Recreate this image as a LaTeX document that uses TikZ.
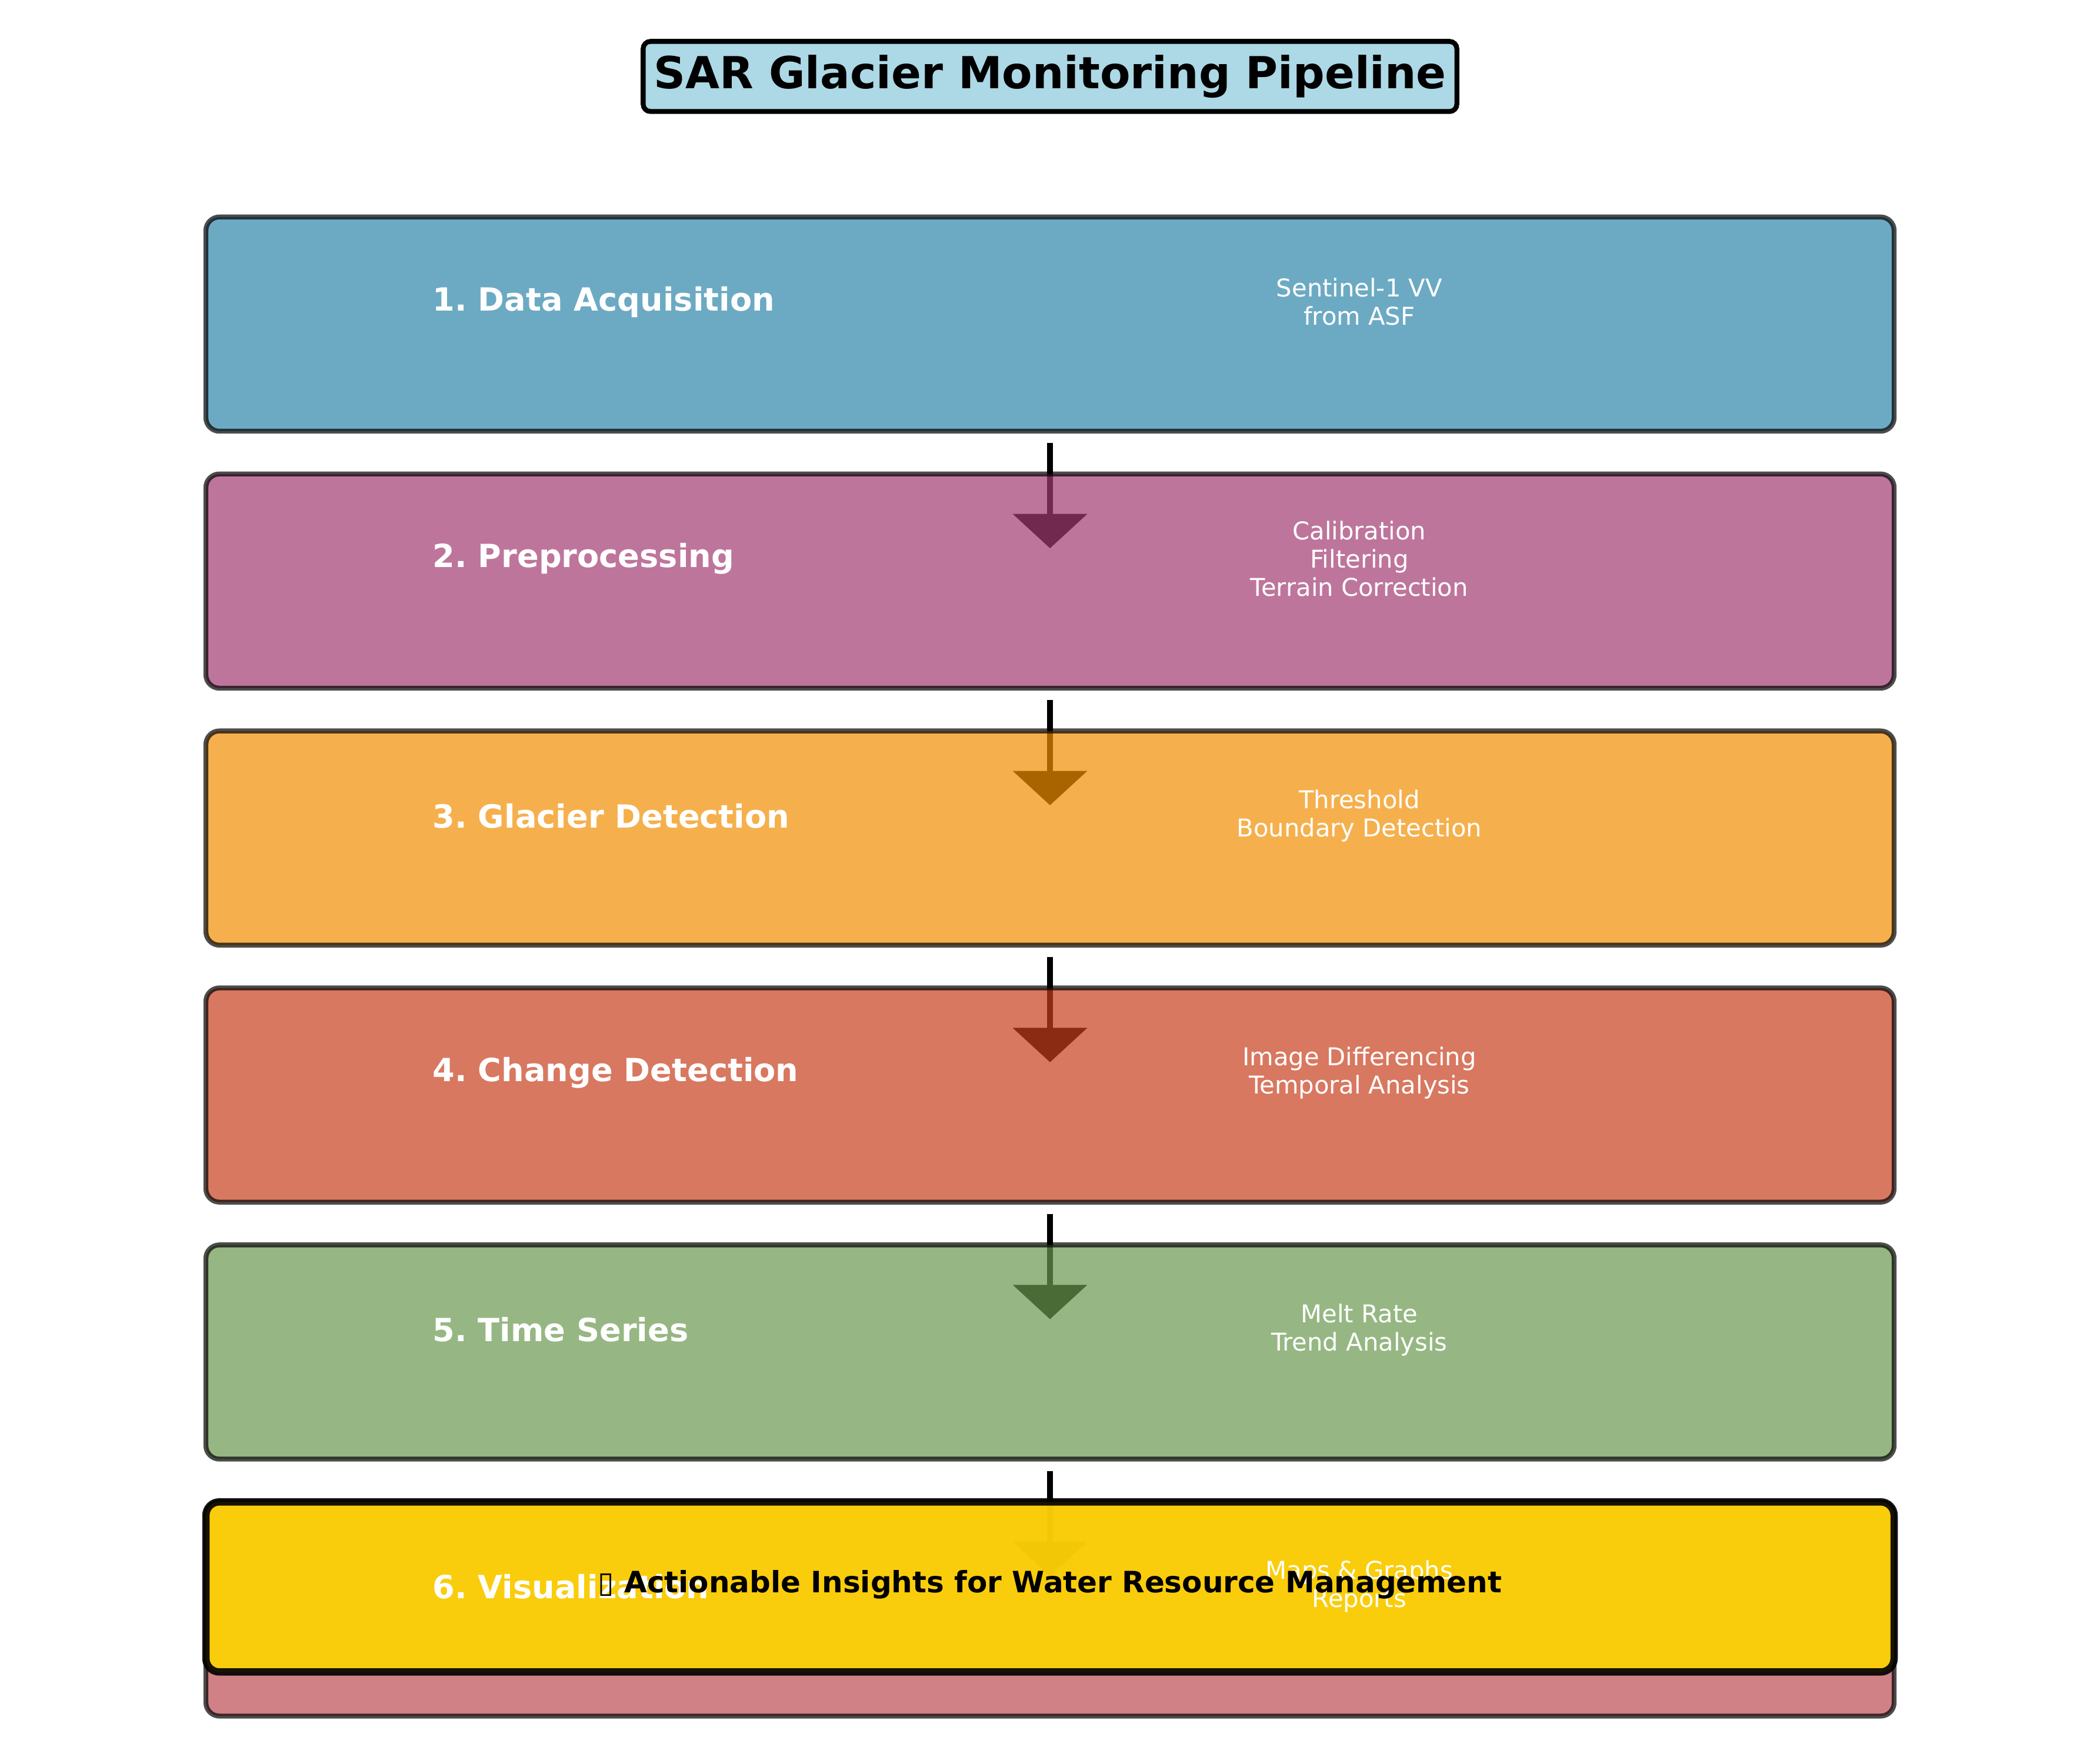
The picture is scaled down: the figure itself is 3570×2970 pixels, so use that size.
\documentclass[tikz,border=0pt]{standalone}
\usepackage{fontspec}
\setmainfont{DejaVu Sans}
\frenchspacing
\usetikzlibrary{arrows.meta,positioning}
\pgfdeclarelayer{back}
\pgfsetlayers{back,main}
\definecolor{acqblue}{HTML}{2E86AB}
\definecolor{prepurple}{HTML}{A23B72}
\definecolor{detorange}{HTML}{F18F01}
\definecolor{chgred}{HTML}{C73E1D}
\definecolor{tsgreen}{HTML}{6A994E}
\definecolor{visrose}{HTML}{BC4B51}
\definecolor{insightgold}{HTML}{FFD700}
\definecolor{titleblue}{HTML}{ADD8E6}
\tikzset{
  titlebox/.style={draw=black, line width=2pt, fill=titleblue, rounded corners=3pt,
    minimum width=332pt, minimum height=28.6pt, inner sep=0pt,
    font=\fontsize{18}{21}\selectfont\bfseries},
  stage/.style={draw=black, draw opacity=.7, fill opacity=.7, line width=2pt,
    rounded corners=5.5pt, minimum width=688.8pt, minimum height=87.4pt,
    inner sep=0pt, outer sep=0pt},
  insight/.style={draw=black, draw opacity=.9, fill=insightgold, fill opacity=.9,
    line width=3pt, rounded corners=5.5pt, minimum width=688.8pt,
    minimum height=69.4pt, inner sep=0pt, outer sep=0pt},
  stagename/.style={anchor=west, text=white, inner sep=0pt,
    font=\fontsize{13}{15.6}\selectfont\bfseries},
  stagenote/.style={text=white, align=center, inner sep=0pt,
    font=\fontsize{10}{11.5}\selectfont},
  flow/.style={line width=2.2pt, -{Triangle[width=30pt,length=14pt]}}
}
\begin{document}
\begin{tikzpicture}[x=0.24pt,y=-0.24pt]
\useasboundingbox (0,0) rectangle (3570,2970);
\node[titlebox] (title) at (1785,130) {SAR Glacier Monitoring Pipeline};

% stage boxes
\node[stage, fill=acqblue] (acq) at (1785,551) {};
\node[stage, fill=prepurple, below=17.45pt of acq] (prep) {};
\node[stage, fill=detorange, below=17.45pt of prep] (det) {};
\node[stage, fill=chgred, below=17.45pt of det] (chg) {};
\node[stage, fill=tsgreen, below=17.45pt of chg] (ts) {};
\node[stage, fill=visrose, below=17.45pt of ts] (vis) {};
\node[insight] (ins) at ([yshift=9pt]vis.center) {};

\begin{pgfonlayer}{back}
\draw[flow] ([yshift=-4.8pt]acq.south) -- ([yshift=-30.3pt]prep.north);
\draw[flow] ([yshift=-4.8pt]prep.south) -- ([yshift=-30.3pt]det.north);
\draw[flow] ([yshift=-4.8pt]det.south) -- ([yshift=-30.3pt]chg.north);
\draw[flow] ([yshift=-4.8pt]chg.south) -- ([yshift=-30.3pt]ts.north);
\draw[flow] ([yshift=-4.8pt]ts.south) -- ([yshift=-30.3pt]vis.north);
\end{pgfonlayer}

% names and notes
\node[stagename] (acqname) at ([xshift=92.4pt,yshift=9.1pt]acq.west) {1. Data Acquisition};
\node[stagenote] (acqnote) at ([xshift=126.2pt,yshift=9.1pt]acq.center) {Sentinel-1 VV\\from ASF};
\node[stagename] (prepname) at ([xshift=92.4pt,yshift=9.1pt]prep.west) {2. Preprocessing};
\node[stagenote] (prepnote) at ([xshift=126.2pt,yshift=9.1pt]prep.center) {Calibration\\Filtering\\Terrain Correction};
\node[stagename] (detname) at ([xshift=92.4pt,yshift=9.1pt]det.west) {3. Glacier Detection};
\node[stagenote] (detnote) at ([xshift=126.2pt,yshift=9.1pt]det.center) {Threshold\\Boundary Detection};
\node[stagename] (chgname) at ([xshift=92.4pt,yshift=9.1pt]chg.west) {4. Change Detection};
\node[stagenote] (chgnote) at ([xshift=126.2pt,yshift=9.1pt]chg.center) {Image Differencing\\Temporal Analysis};
\node[stagename] (tsname) at ([xshift=92.4pt,yshift=9.1pt]ts.west) {5. Time Series};
\node[stagenote] (tsnote) at ([xshift=126.2pt,yshift=9.1pt]ts.center) {Melt Rate\\Trend Analysis};
\node[stagename] (visname) at ([xshift=92.4pt,yshift=9.1pt]vis.west) {6. Visualization};
\node[stagenote] (visnote) at ([xshift=126.2pt,yshift=9.1pt]vis.center) {Maps \& Graphs\\Reports};

\node[font=\fontsize{12}{14}\selectfont\bfseries, inner sep=0pt] (instext) at ([yshift=1pt]ins.center) {{\mdseries ▯} Actionable Insights for Water Resource Management};
\end{tikzpicture}
\end{document}
